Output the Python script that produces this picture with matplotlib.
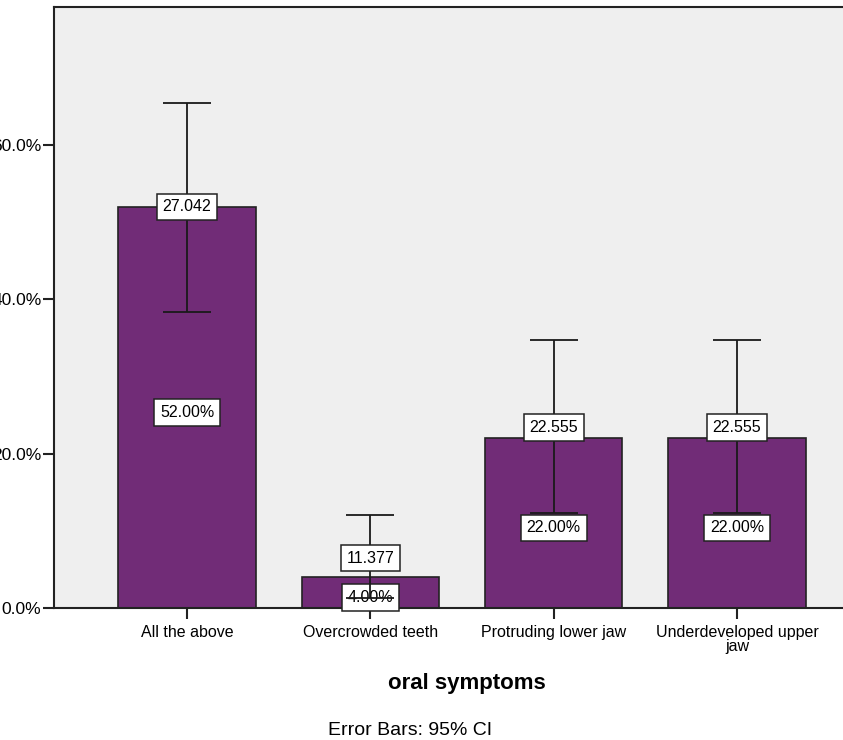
import matplotlib.pyplot as plt
import numpy as np

plt.rcParams['font.family'] = ['Liberation Sans', 'DejaVu Sans']

# data
categories = ['All the above', 'Overcrowded teeth', 'Protruding lower jaw',
              'Underdeveloped upper\njaw']
percent = [52.0, 4.0, 22.0, 22.0]
ci_low = [38.4, 1.3, 12.3, 12.3]
ci_high = [65.4, 12.0, 34.7, 34.7]
top_labels = ['27.042', '11.377', '22.555', '22.555']
y_ticks = [0, 20, 40, 60]

bar_color = '#712c77'
x = np.arange(len(categories))

fig = plt.figure(figsize=(8.43, 7.40), dpi=100)
ax = fig.add_axes([0.064, 0.1784, 0.936, 0.8121])
ax.set_facecolor('#efefef')

ax.bar(x, percent, width=0.75, color=bar_color, edgecolor='#222222',
       linewidth=1.2, zorder=2)

err = [np.array(percent) - np.array(ci_low), np.array(ci_high) - np.array(percent)]
ax.errorbar(x, percent, yerr=err, fmt='none', ecolor='#1a1a1a', elinewidth=1.3,
            capsize=17, capthick=1.3, zorder=4)

box = dict(boxstyle='square,pad=0.36', facecolor='white', edgecolor='#222222',
           linewidth=1.1)
# vertical nudges (pixels) so the top labels avoid the inner labels
nudge = [0, 19, 11, 11]
for xi, p, lab, dy in zip(x, percent, top_labels, nudge):
    ax.annotate(lab, (xi, p), xytext=(0, dy * 0.72), textcoords='offset points',
                ha='center', va='center', fontsize=11.5, bbox=box, zorder=5)
    ax.annotate(f'{p:.2f}%', (xi, p / 2), xytext=(0, -3.5),
                textcoords='offset points', ha='center', va='center',
                fontsize=11.5, bbox=box, zorder=3)

ax.set_xlim(-0.726, 3.578)
ax.set_ylim(0, 77.9)
ax.set_yticks(y_ticks)
ax.set_yticklabels([f'{t:.1f}%' for t in y_ticks])
ax.set_xticks(x)
ax.set_xticklabels(categories, linespacing=0.95)
ax.tick_params(axis='both', labelsize=11.5, length=8, width=1.5, color='#222222')
ax.tick_params(axis='y', labelsize=12.5, pad=1)
ax.tick_params(axis='x', pad=4)
for s in ['left', 'bottom', 'top']:
    ax.spines[s].set_linewidth(1.5)
    ax.spines[s].set_color('#222222')
ax.spines['right'].set_visible(False)

fig.text(0.554, 0.077, 'oral symptoms', ha='center', va='center',
         fontsize=16, fontweight='bold')
fig.text(0.4864, 0.0135, 'Error Bars: 95% CI', ha='center', va='center',
         fontsize=14)

fig.savefig('out.png', dpi=100)
